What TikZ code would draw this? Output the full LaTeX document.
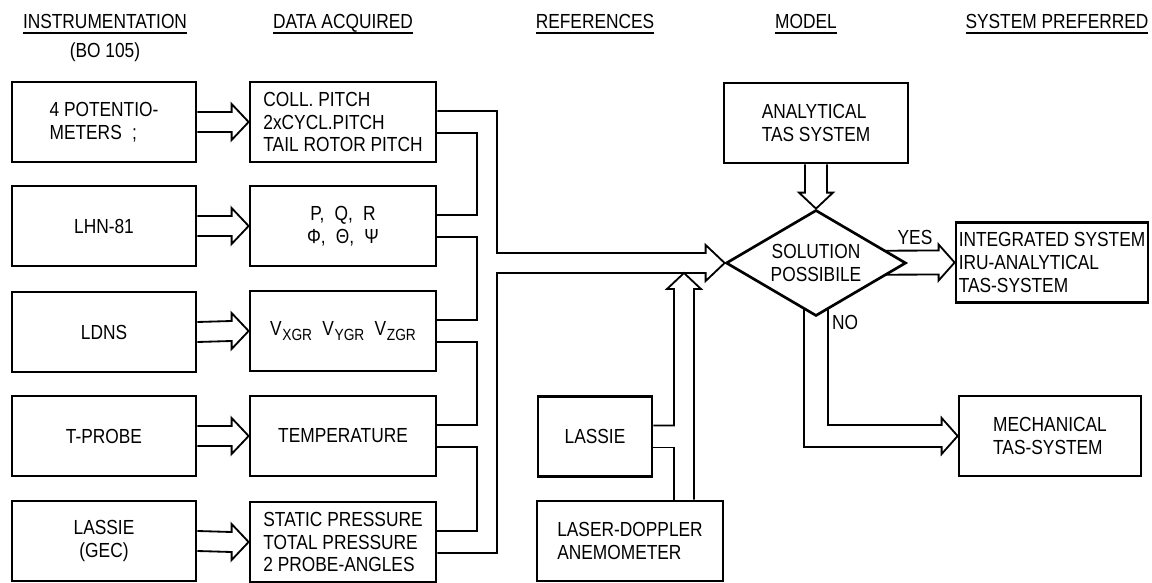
\documentclass[tikz,border=0pt]{standalone}
\usepackage{fontspec}
\setmainfont{Liberation Sans}[FakeStretch=0.85]
\usetikzlibrary{shapes.geometric,calc}

\newcommand{\hdr}[1]{\setbox0\hbox{#1}\rlap{\rule[-3.5pt]{\wd0}{1.3pt}}\box0}
\newcommand{\vsub}[1]{V\kern0.5pt\raisebox{-0.5ex}{\fontsize{11.5}{12}\selectfont #1}}
% hollow arrow from box to box
\newcommand{\fatarrow}[2]{%
  \draw[link] ($(#1.east)+(0,-10)$) -- ($(#2.west)+(-17,-10)$) -- ++(0,-8)
    -- (#2.west) -- ++(-17,18) -- ++(0,-8) -- ($(#1.east)+(0,10)$);}

\begin{document}
\begin{tikzpicture}[x=0.025cm, y=-0.025cm,
  every node/.style={font=\fontsize{14.5}{16.3}\selectfont},
  box/.style={draw, line width=1.9pt, minimum width=4.6cm, minimum height=2cm,
              align=left, inner sep=2pt},
  dbox/.style={box, minimum width=4.65cm},
  decision/.style={draw, diamond, line width=1.9pt, aspect=1.7, fill=white,
                   minimum width=4.5cm, minimum height=2.65cm, inner sep=0pt,
                   align=center},
  link/.style={line width=1.3pt, line join=miter},
  hd/.style={anchor=base}
]
  \useasboundingbox (0,0) rectangle (1152,583);

  % Headers
  \node[hd] (h1) at (105,29)  {\hdr{INSTRUMENTATION}};
  \node[hd] (h1b) at (105,58) {(BO 105)};
  \node[hd] (h2) at (343,29)  {\hdr{DATA ACQUIRED}};
  \node[hd] (h3) at (595,29)  {\hdr{REFERENCES}};
  \node[hd] (h4) at (806,29)  {\hdr{MODEL}};
  \node[hd] (h5) at (1057,29) {\hdr{SYSTEM PREFERRED}};

  % Instrumentation
  \node[box] (i1) at (104,122) {4 POTENTIO-\\METERS\enspace;};
  \node[box] (i2) at (104,226) {LHN-81};
  \node[box] (i3) at (104,332) {LDNS};
  \node[box] (i4) at (104,436) {T-PROBE};
  \node[box, align=center] (i5) at (104,541) {LASSIE\\(GEC)};

  % Data acquired
  \node[dbox] (d1) at (343,122) {COLL. PITCH\\2xCYCL.PITCH\\TAIL ROTOR PITCH};
  \node[dbox, align=center] (d2) at (343,226) {P,\enspace Q,\enspace R\\Φ,\enspace Θ,\enspace Ψ};
  \node[dbox] (d3) at (343,331) {\vsub{XGR}\enspace\vsub{YGR}\enspace\vsub{ZGR}};
  \node[dbox] (d4) at (343,436) {TEMPERATURE};
  \node[dbox] (d5) at (343,542) {STATIC PRESSURE\\TOTAL PRESSURE\\2 PROBE-ANGLES};

  % References
  \node[box, minimum width=2.85cm] (las) at (595,436.5) {LASSIE};
  \node[dbox] (lda) at (630,541) {LASER-DOPPLER\\ANEMOMETER};

  % Model and systems
  \node[box] (ana) at (816,123) {ANALYTICAL\\TAS SYSTEM};
  \node[box, minimum width=4.5cm] (int) at (1052,262.5) {INTEGRATED SYSTEM\\IRU-ANALYTICAL\\TAS-SYSTEM};
  \node[box, minimum width=4.55cm] (mech) at (1050,436) {MECHANICAL\\TAS-SYSTEM};

  \coordinate (solc) at (816,263);
  \coordinate (busL) at (477,0);
  \coordinate (busR) at (497,0);
  \coordinate (up) at (684,0);

  % YES / NO outlets (diamond drawn on top)
  \draw[link] ($(solc)+(0,-12)$) -- ($(int.west)+(-16,-12)$) -- ++(0,-6)
    -- (int.west) -- ++(-16,18) -- ++(0,-6) -- ($(solc)+(0,12)$);
  \draw[link] ($(solc)+(12,0)$) |- ($(mech.west)+(-16,-11)$) -- ++(0,-7)
    -- (mech.west) -- ++(-16,18) -- ++(0,-7) -| ($(solc)+(-12,0)$);
  \node[decision] (sol) at (solc) {SOLUTION\\POSSIBILE};
  \node (lyes) at (915,237) {YES};
  \node (lno) at (845,322) {NO};

  % Instrumentation -> data
  \foreach \n in {1,...,5}{\fatarrow{i\n}{d\n}}

  % Data collector
  \foreach \a/\b in {1/2,2/3,3/4,4/5}
    \draw[link] ($(d\a.east)+(0,11)$) -| ($(busL |- d\b.east)+(0,-11)$)
      -- ($(d\b.east)+(0,-11)$);
  \draw[link] ($(d1.east)+(0,-11)$) -| ($(busR |- sol.west)+(0,-10)$)
    -- ($(sol.west)+(-19,-10)$) -- ++(0,-8) -- (sol.west) -- ++(-19,18)
    -- ++(0,-8) -- ($(busR |- sol.west)+(0,10)$) |- ($(d5.east)+(0,11)$);

  % References -> collector
  \draw[link] ($(las.east)+(0,-11)$) -| ($(up |- sol.west)+(-10,26)$) -- ++(-7,0)
    -- ($(up |- sol.west)+(0,10)$) -- ++(17,16) -- ++(-7,0)
    -- ($(up |- lda.north)+(10,0)$);
  \draw[link] ($(las.east)+(0,11)$) -| ($(up |- lda.north)+(-10,0)$);

  % Analytical -> decision
  \draw[link] ($(ana.south)+(-11,0)$) -- ($(sol.north)+(-11,-16)$) -- ++(-6,0)
    -- (sol.north) -- ++(17,-16) -- ++(-6,0) -- ($(ana.south)+(11,0)$);
\end{tikzpicture}
\end{document}
